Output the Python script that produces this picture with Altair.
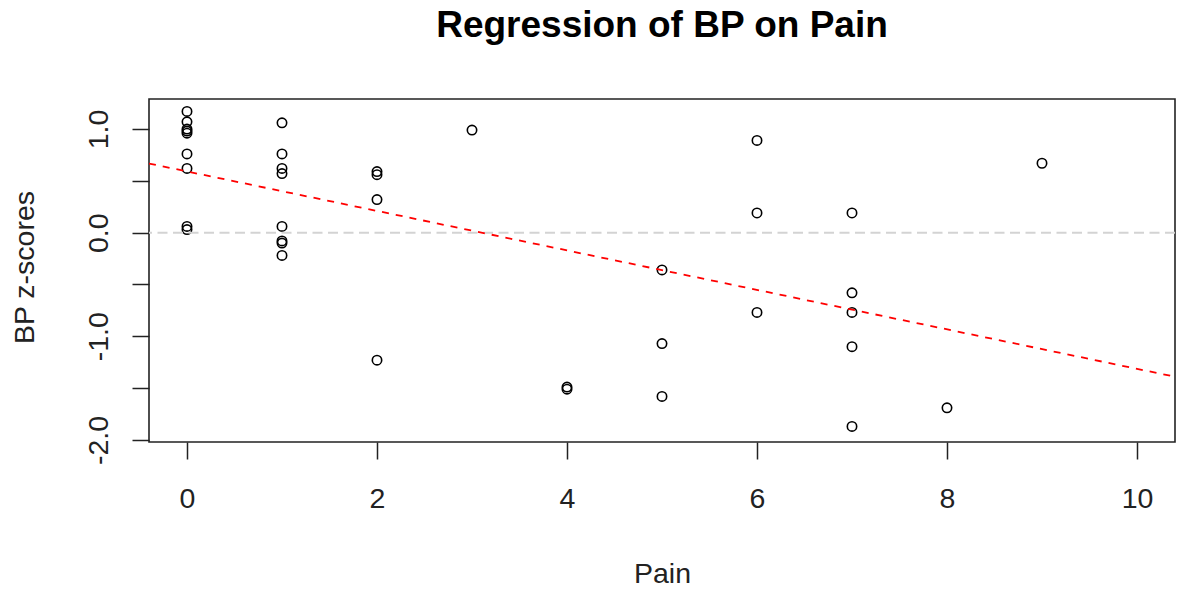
import altair as alt
import pandas as pd

# Pain score for each subject and the matching standardized blood pressure
pain = [0, 0, 0, 0, 0, 0, 0, 0, 0,
        1, 1, 1, 1, 1, 1, 1, 1,
        2, 2, 2, 2,
        3,
        4, 4,
        5, 5, 5,
        6, 6, 6,
        7, 7, 7, 7, 7,
        8,
        9]
bp_z = [1.17, 1.07, 1.00, 0.98, 0.96, 0.76, 0.62, 0.06, 0.03,
        1.06, 0.76, 0.62, 0.57, 0.06, -0.08, -0.10, -0.22,
        0.59, 0.56, 0.32, -1.23,
        0.99,
        -1.49, -1.51,
        -0.36, -1.07, -1.58,
        0.89, 0.19, -0.77,
        0.19, -0.58, -0.77, -1.10, -1.87,
        -1.69,
        0.67]

# Fitted least-squares line (BP ~ Pain)
fit_intercept = 0.591
fit_slope = -0.1905

x_domain = [-0.4, 10.4]
y_domain = [-2.02, 1.29]
x_ticks = [0, 2, 4, 6, 8, 10]
y_ticks = [-2.0, -1.5, -1.0, -0.5, 0.0, 0.5, 1.0]

points = pd.DataFrame({"Pain": pain, "BP": bp_z})
fit_line = pd.DataFrame({"Pain": x_domain})
fit_line["BP"] = fit_intercept + fit_slope * fit_line["Pain"]

FONT = "Liberation Sans"
W, H = 1026, 343

x_scale = alt.Scale(domain=x_domain, nice=False, zero=False)
y_scale = alt.Scale(domain=y_domain, nice=False, zero=False)

x_axis = alt.Axis(
    title="Pain", values=x_ticks, format="d", grid=False, domain=False,
    tickSize=17, tickWidth=1.5, tickColor="#222222",
    labelFontSize=28.5, labelFont=FONT, labelColor="#222222",
    labelPadding=25, labelBaseline="top",
    titleFontSize=28.5, titleFont=FONT, titleFontWeight="normal",
    titleColor="#222222", titleY=140, titleBaseline="alphabetic",
)
y_axis = alt.Axis(
    title="BP z-scores", values=y_ticks, grid=False, domain=False,
    labelExpr="datum.value % 1 === 0 ? (datum.value < 0 ? '-' + format(-datum.value, '.1f') : format(datum.value, '.1f')) : ''",
    tickSize=17, tickWidth=1.5, tickColor="#222222",
    labelFontSize=28.5, labelFont=FONT, labelColor="#222222",
    labelAngle=270, labelAlign="center", labelBaseline="alphabetic",
    labelPadding=25,
    titleFontSize=28.5, titleFont=FONT, titleFontWeight="normal",
    titleColor="#222222", titleAngle=270, titleAlign="center",
    titleBaseline="alphabetic", titleX=-116, titleY=168,
)

scatter = alt.Chart(points).mark_point(
    shape="circle", filled=False, size=88, stroke="black", strokeWidth=1.6,
    opacity=1,
).encode(
    x=alt.X("Pain:Q", scale=x_scale, axis=x_axis),
    y=alt.Y("BP:Q", scale=y_scale, axis=y_axis),
)

zero_line = alt.Chart(pd.DataFrame({"BP": [0.0]})).mark_rule(
    color="#d3d3d3", strokeWidth=2, strokeDash=[10, 5.5],
).encode(y=alt.Y("BP:Q", scale=y_scale))

reg_line = alt.Chart(fit_line).mark_line(
    color="#ff0000", strokeWidth=1.8, strokeDash=[7, 7], clip=True,
).encode(
    x=alt.X("Pain:Q", scale=x_scale),
    y=alt.Y("BP:Q", scale=y_scale),
)

chart = alt.layer(scatter, zero_line, reg_line).properties(
    width=W, height=H,
    background="white",
    title=alt.TitleParams(
        "Regression of BP on Pain", font=FONT, fontSize=37, fontWeight="bold",
        color="black", anchor="middle", frame="group", baseline="alphabetic",
        offset=25,
    ),
    autosize=alt.AutoSizeParams(type="none"),
    padding={"left": 149, "top": 99, "right": 2, "bottom": 148},
).configure_view(
    stroke="#222222", strokeWidth=1.6,
)

chart.save("out.html", embed_options={"renderer": "svg", "actions": False})
